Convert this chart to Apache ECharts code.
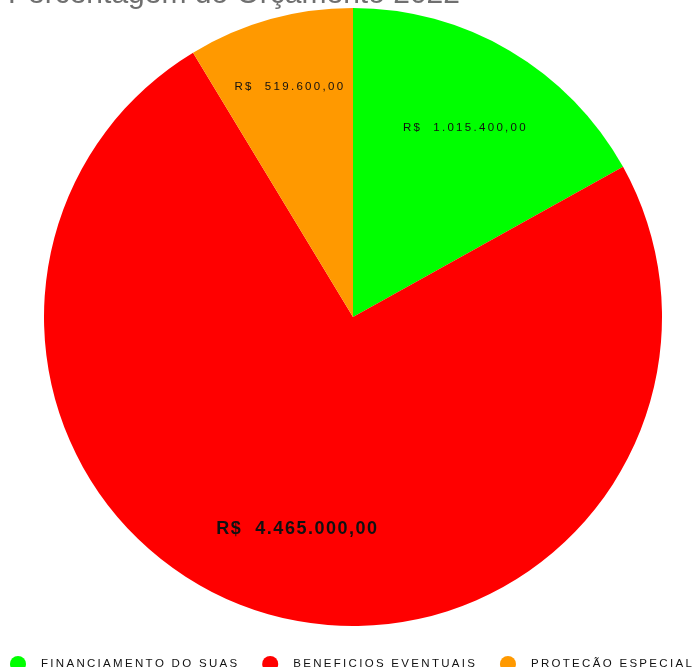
<!DOCTYPE html>
<html>
<head>
<meta charset="utf-8">
<script src="https://cdn.jsdelivr.net/npm/echarts@6/dist/echarts.min.js"></script>
<style>
  html, body { margin: 0; padding: 0; background: #fff; }
  #chart { width: 697px; height: 667px; }
</style>
</head>
<body>
<div id="chart"></div>
<script>
const titleText = "Percentagem do Orçamento 2022";
const categories = ["FINANCIAMENTO DO SUAS", "BENEFICIOS EVENTUAIS", "PROTEÇÃO ESPECIAL"];
const values = [1015400, 4465000, 519600];
const colors = ["#00ff00", "#ff0000", "#ff9900"];

// the source renders text with wide letter spacing, fake it with thin spaces
const spaced = (s, sep) => s.split("").join(sep || "\u2009");

const money = v => {
  const int = String(Math.round(v)).replace(/\B(?=(\d{3})+(?!\d))/g, ".");
  return "R$  " + int + ",00";
};

const data = categories.map((name, i) => ({
  name,
  value: values[i],
  itemStyle: { color: colors[i] }
}));

// transparent overlay rings only used to put the labels at the right radius
const labelRing = (r0, showIdx) => ({
  type: "pie",
  center: [353, 317],
  radius: [r0, 309],
  startAngle: 90,
  silent: true,
  animation: false,
  itemStyle: { color: "rgba(0,0,0,0)" },
  labelLine: { show: false },
  emphasis: { disabled: true },
  data: categories.map((name, i) => ({
    name,
    value: values[i],
    label: {
      show: showIdx.indexOf(i) >= 0,
      position: "inside",
      color: "#111",
      fontFamily: "Arial",
      fontSize: i === 1 ? 18 : 11.5,
      fontWeight: i === 1 ? "bold" : "normal",
      formatter: p => spaced(money(p.value), i === 1 ? "\u200A" : "\u2009")
    }
  }))
});

const myChart = echarts.init(document.getElementById("chart"));
myChart.setOption({
  backgroundColor: "#fff",
  animation: false,
  title: {
    text: titleText,
    left: 8,
    top: -20,
    padding: 0,
    textStyle: {
      fontFamily: "Arial",
      fontSize: 30,
      fontWeight: "normal",
      color: "#6f6f6f"
    }
  },
  legend: {
    data: categories,
    left: 10,
    top: 656,
    width: 697,
    padding: 0,
    itemGap: 25,
    itemWidth: 16,
    itemHeight: 16,
    icon: "circle",
    formatter: name => spaced(name),
    textStyle: {
      fontFamily: "Arial",
      fontSize: 11.5,
      color: "#111",
      padding: [0, 0, 0, 10]
    }
  },
  series: [
    {
      type: "pie",
      center: [353, 317],
      radius: 309,
      startAngle: 90,
      label: { show: false },
      labelLine: { show: false },
      emphasis: { scale: false },
      data
    },
    labelRing(124, [0, 1]),
    labelRing(163, [2])
  ]
});
</script>
</body>
</html>
